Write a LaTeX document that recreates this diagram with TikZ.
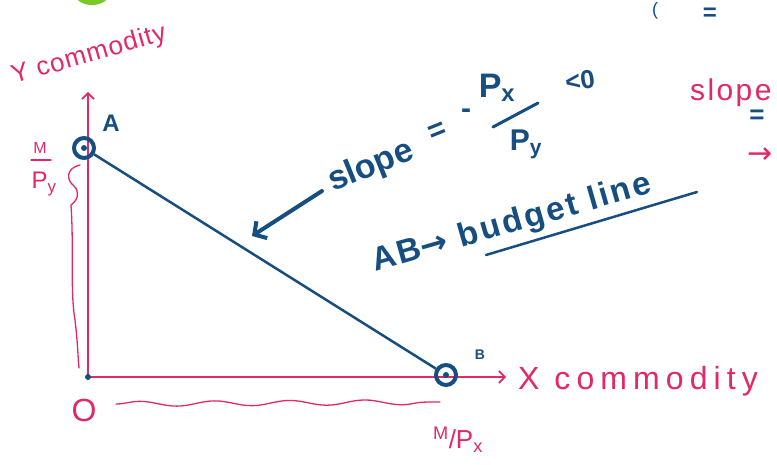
\documentclass[tikz,border=0pt]{standalone}
\usepackage{fontspec}
\setmainfont{Liberation Sans}
\newfontfamily\arrowfont{DejaVu Sans}
\usetikzlibrary{decorations.pathmorphing,arrows.meta}
\definecolor{pinkink}{RGB}{226,40,104}
\definecolor{blueink}{RGB}{22,78,130}
\definecolor{greenink}{RGB}{120,200,40}
\begin{document}
\begin{tikzpicture}[x=1pt,y=-1pt,
 pinktext/.style={text=pinkink,font=\fontsize{24}{26}\selectfont,inner sep=0pt},
 bluetext/.style={text=blueink,font=\fontsize{30}{32}\selectfont\bfseries,inner sep=0pt},
 axis/.style={draw=pinkink,line width=1.6pt,-{Straight Barb[length=6pt,width=12pt]}},
 point/.style={circle,draw=blueink,line width=4pt,minimum size=20pt,inner sep=0pt},
 budget/.style={draw=blueink,line width=2.5pt},
 bigarrow/.style={draw=blueink,line width=4pt,line cap=round,-{Straight Barb[length=9pt,width=20pt]}},
 brace/.style={draw=pinkink,line width=1.3pt,line cap=round},
 wavy/.style={brace,decorate,decoration={snake,amplitude=2.5pt,segment length=75pt}}
]
\useasboundingbox (0,0) rectangle (777,465);
\clip (0,0) rectangle (777,465);
\fill[white] (0,0) rectangle (777,465);

% green blob at top
\fill[greenink] (92,-6) ellipse (17pt and 11pt);

% axes
\coordinate (O) at (88,377);
\coordinate (ytop) at (88,92);
\coordinate (xend) at (506,377);
\draw[axis] (O) -- (ytop);
\draw[axis] (O) -- (xend);
\fill[blueink] (O) circle (3pt);

% points A and B
\node[point] (A) at (84,148) {};
\node[point] (B) at (446,375) {};
\fill[blueink] (A) circle (3pt);
\fill[blueink] (B) circle (3pt);
\draw[budget] (A) -- (B);
\node[bluetext,font=\fontsize{24}{26}\selectfont\bfseries] (Alab) at (111,123) {A};
\node[bluetext,font=\fontsize{14}{16}\selectfont\bfseries] (Blab) at (480,355) {B};

% axis labels
\node[pinktext,font=\fontsize{26}{28}\selectfont\addfontfeature{LetterSpace=4},rotate=16,anchor=base west] (ylab) at (14,84) {Y commodity};
\node[pinktext,font=\fontsize{32}{34}\selectfont\addfontfeature{LetterSpace=19},anchor=base west] (xlab) at (518,389) {X commodity};
\node[pinktext,font=\fontsize{32}{34}\selectfont] (Olab) at (84,410) {O};

% intercept labels
\node[pinktext,font=\fontsize{16}{18}\selectfont] (Mtop) at (40,148) {M};
\coordinate (mb1) at (31,160);
\coordinate (mb2) at (51,160);
\draw[brace] (mb1) -- (mb2);
\node[pinktext,font=\fontsize{24}{26}\selectfont] (Pybot) at (44,184) {P\textsubscript{y}};
\node[pinktext,font=\fontsize{26}{28}\selectfont] (Mpx) at (458,440) {\textsuperscript{M}/P\textsubscript{x}};

% braces
\draw[brace] (80,165) .. controls (66,168) and (66,180) .. (74,186)
  .. controls (80,192) and (78,200) .. (71,205)
  .. controls (74,250) and (70,290) .. (75,320)
  .. controls (78,345) and (78,360) .. (79,368);
\coordinate (bb1) at (116,404);
\coordinate (bb2) at (440,402);
\draw[wavy] (bb1) -- (bb2);

% slope annotation
\coordinate (arrS) at (322,191);
\coordinate (arrE) at (252,236);
\draw[bigarrow] (arrS) -- (arrE);
\node[bluetext,font=\fontsize{34}{36}\selectfont\bfseries,rotate=22,anchor=base west] (slope) at (333,192) {slope};
\node[bluetext,rotate=22] (eq) at (438,132) {=};
\node[bluetext] (minus) at (466,114) {-};
\node[bluetext,font=\fontsize{34}{36}\selectfont\bfseries] (Px) at (497,88) {P\textsubscript{x}};
\coordinate (fb1) at (493,127);
\coordinate (fb2) at (538,103);
\draw[blueink,line width=3pt,line cap=round] (fb1) -- (fb2);
\node[bluetext,font=\fontsize{30}{32}\selectfont\bfseries] (Py) at (526,144) {P\textsubscript{y}};
\node[bluetext,font=\fontsize{26}{28}\selectfont\bfseries,rotate=8] (lt) at (580,81) {<0};

% AB budget line
\node[bluetext,font=\fontsize{33}{35}\selectfont\bfseries\addfontfeature{LetterSpace=8},rotate=16,anchor=base west] (ab) at (375,272) {AB{\arrowfont\bfseries →} budget line};
\coordinate (ul1) at (486,255);
\coordinate (ul2) at (697,192);
\draw[blueink,line width=2.5pt,line cap=round] (ul1) -- (ul2);

% cut-off fragments at right and top
\node[pinktext,font=\fontsize{30}{32}\selectfont\addfontfeature{LetterSpace=8},anchor=base west] (slope2) at (690,101) {slope};
\node[bluetext,font=\fontsize{26}{28}\selectfont\bfseries] (eq2) at (757,117) {=};
\node[pinktext,font=\fontsize{30}{32}\selectfont\arrowfont] (arr2) at (760,156) {→};
\node[bluetext,font=\fontsize{24}{26}\selectfont\bfseries] (eq3) at (710,14) {=};
\node[bluetext,font=\fontsize{18}{20}\selectfont] (par) at (655,11) {(};
\end{tikzpicture}
\end{document}
